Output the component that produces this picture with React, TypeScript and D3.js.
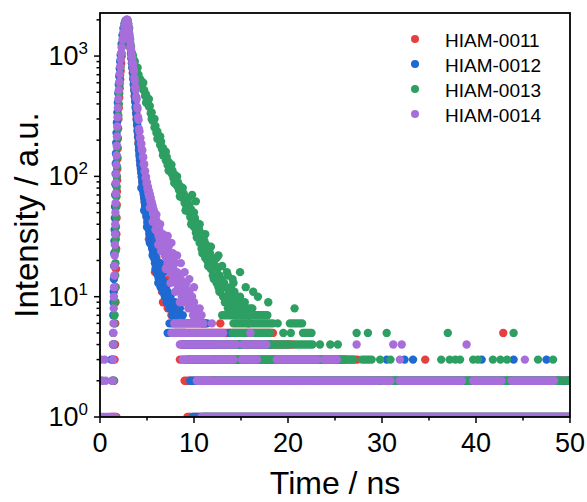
import React from 'react';
import * as d3 from 'd3';

const W = 587;
const H = 502;
const PLOT = { left: 100, right: 570, top: 13, bottom: 417 };
const X_DOMAIN = [0, 50];
const Y_DOMAIN = [1, 2280];
const R = 4.2;
const FONT = '"Liberation Sans", Arial, Helvetica, sans-serif';

const xTicks = [0, 10, 20, 30, 40, 50];
const xMinorTicks = [5, 15, 25, 35, 45];
const yTickExps = [0, 1, 2, 3];

const seriesNames = ['HIAM-0011', 'HIAM-0012', 'HIAM-0013', 'HIAM-0014'];
const seriesColors = ['#E5403F', '#1E69D2', '#2E9F62', '#A76EDB'];

// ---------- HIAM-0011 (red) ----------
const rise0011: number[][] = [
  [1.5, 2], [1.55, 3], [1.6, 4], [1.62, 6], [1.65, 9], [1.67, 12], [1.7, 17], [1.72, 25], [1.74, 33],
  [1.76, 45], [1.78, 58], [1.8, 75], [1.82, 93], [1.84, 115], [1.86, 140], [1.88, 170], [1.9, 205],
  [1.93, 250], [1.96, 300], [2.0, 370], [2.05, 450], [2.1, 540], [2.15, 640], [2.2, 750], [2.25, 870],
  [2.3, 990], [2.4, 1220], [2.5, 1450], [2.6, 1680], [2.7, 1860], [2.8, 1970],
];
const decayStart0011 = 2.85;
const decayStep0011 = 0.05;
const decay0011 = [
  1990, 1960, 1880, 1760, 1640, 1500, 1390, 1260, 1150, 1040, 950, 880, 800, 730, 660, 590, 530, 470,
  425, 380, 340, 305, 272, 243, 216, 192, 172, 155, 140, 128, 118, 109, 100, 92, 85, 79, 73, 68, 63, 59,
  55, 52, 47, 49, 42, 45, 38, 41, 35, 37, 31, 34, 28, 31, 26, 29, 24, 26, 22, 24, 20, 22, 19, 21, 17, 19,
  16, 18, 15, 17, 14, 16, 13, 14,
];
const extra0011: number[][] = [
  [6.55, 14], [6.6, 11], [6.7, 9], [6.8, 12], [6.9, 9], [7.0, 10], [7.2, 8], [7.4, 9], [7.6, 7],
  [7.8, 20], [8.1, 7], [8.4, 8], [5.85, 16], [10.9, 6], [11.2, 6], [12.8, 6], [14.9, 4], [34.6, 3],
  [42.9, 5], [49.3, 2], [5.2, 30], [6.3, 19], [7.3, 14],
];
const runs0011: number[][] = [
  [1, 1.2, 1.75], [1, 9.3, 50], [2, 9.0, 50], [3, 8.5, 27.4], [4, 8.7, 20.5], [5, 8.0, 18.4],
];

// ---------- HIAM-0012 (blue) ----------
const rise0012: number[][] = [
  [1.3, 2], [1.35, 3], [1.38, 4], [1.4, 5], [1.42, 7], [1.44, 9], [1.46, 11], [1.48, 14], [1.5, 18],
  [1.52, 23], [1.54, 29], [1.56, 36], [1.58, 45], [1.6, 56], [1.62, 70], [1.64, 86], [1.66, 105],
  [1.68, 128], [1.7, 155], [1.73, 190], [1.76, 230], [1.8, 280], [1.85, 340], [1.9, 410], [1.95, 490],
  [2.0, 580], [2.05, 680], [2.1, 790], [2.15, 900], [2.2, 1020], [2.3, 1260], [2.4, 1490], [2.5, 1700],
  [2.6, 1860], [2.7, 1960], [2.8, 2000],
];
const decayStart0012 = 2.85;
const decayStep0012 = 0.05;
const decay0012 = [
  2000, 1980, 1900, 1780, 1650, 1520, 1410, 1280, 1170, 1050, 960, 870, 795, 720, 640, 575, 515, 460,
  415, 370, 330, 295, 265, 235, 210, 185, 165, 148, 136, 124, 115, 106, 98, 89, 82, 76, 71, 66, 61, 57,
  53, 50, 46, 47, 41, 43, 37, 39, 33, 36, 30, 32, 27, 30, 25, 27, 23, 25, 21, 23, 19, 21, 18, 20, 16, 18,
  15, 17, 14, 16, 13, 15, 12, 14,
];
const extra0012: number[][] = [
  [6.55, 12], [6.6, 14], [6.7, 11], [6.8, 13], [6.9, 10], [7.0, 12], [7.1, 9], [7.2, 11], [7.3, 10],
  [7.4, 8], [7.5, 10], [7.6, 9], [7.7, 7], [7.8, 8], [8.0, 9], [8.2, 7], [8.5, 8], [8.8, 7],
  [1.2, 3], [13.8, 5], [30.5, 3], [32.4, 3], [33.3, 3], [40.6, 3], [44.0, 3], [47.5, 3],
  [4.4, 80], [4.7, 52], [5.0, 38], [5.3, 28], [5.4, 40], [5.6, 22], [5.8, 30], [5.9, 17], [6.1, 24],
  [6.2, 13], [6.4, 19], [6.8, 16], [7.2, 13],
];
const runs0012: number[][] = [
  [1, 9.9, 50], [2, 9.6, 49.1], [2, 49.5, 50], [3, 9.3, 26.0], [4, 8.8, 18.0], [5, 7.2, 9.0], [6, 7.4, 11.4],
];

// ---------- HIAM-0013 (green) ----------
const rise0013: number[][] = [
  [0.2, 2], [1.45, 2], [1.5, 4], [1.52, 6], [1.55, 7], [1.57, 9], [1.6, 12], [1.62, 15], [1.64, 19],
  [1.66, 24], [1.68, 30], [1.7, 38], [1.72, 46], [1.74, 56], [1.76, 68], [1.78, 82], [1.8, 100],
  [1.82, 120], [1.84, 145], [1.86, 175], [1.88, 210], [1.9, 250], [1.95, 320], [2.0, 400], [2.05, 490],
  [2.1, 590], [2.15, 700], [2.2, 810], [2.3, 1050], [2.4, 1300], [2.5, 1540], [2.6, 1750], [2.7, 1900],
  [2.8, 1990],
];
const decayStart0013 = 2.9;
const decayStep0013 = 0.1;
const decay0013 = [
  2000, 1870, 1700, 1380, 1200, 1060, 1010, 930, 900, 800, 790, 710, 700, 640, 640, 580, 585, 525, 520,
  465, 480, 425, 420, 380, 385, 335, 340, 290, 298, 255, 262, 230, 236, 205, 214, 182, 194, 168, 172, 150,
  157, 136, 145, 124, 132, 114, 121, 106, 112, 97, 104, 90, 96, 83, 89, 77, 83, 71, 78, 66, 72, 60, 67, 56,
  62, 51, 58, 46, 53, 43, 49, 38, 45, 34, 41, 31, 37, 28, 34, 25, 31, 24, 29, 21, 27, 20, 25, 18, 23, 17,
  21, 15, 20, 14, 18, 13, 17, 12, 15, 11, 14, 12, 10, 13, 9, 12, 10, 8, 11, 9, 12, 8, 10, 9, 11, 8, 10, 7,
  9, 8, 10, 7, 9, 8, 7, 9, 8, 7, 8, 6, 7, 8,
];
const extra0013: number[][] = [
  [9.8, 70], [10.2, 62], [11.2, 33], [12.6, 22], [13.5, 16], [14.1, 14], [14.9, 16], [15.5, 12],
  [16.3, 11], [16.8, 10], [17.9, 9], [14.5, 8], [15.5, 8], [16.2, 8], [20.7, 8], [18.9, 6], [19.5, 5],
  [20.3, 5], [23.4, 4], [24.5, 4], [25.3, 4], [27.3, 5], [28.5, 5], [30.5, 5], [37.0, 5], [44.0, 5],
  [29.8, 3], [30.9, 3], [36.3, 3], [37.2, 3], [37.8, 3], [38.3, 3], [39.7, 3], [40.2, 3], [41.8, 3],
  [42.6, 3], [43.3, 3], [46.6, 3], [48.2, 3],
  [4.0, 800], [4.6, 600], [5.2, 440], [5.8, 300], [6.4, 215], [7.0, 160], [7.6, 125], [8.2, 100],
  [8.8, 80], [9.4, 66], [10.0, 50], [10.6, 40], [11.8, 26], [12.4, 21], [13.0, 18], [13.6, 15], [14.2, 13],
  [4.3, 560], [4.9, 410], [5.5, 300], [6.1, 205], [6.7, 150], [7.3, 112], [7.9, 88], [8.5, 68], [9.1, 52],
  [9.7, 40], [10.3, 31], [10.9, 23], [11.5, 18], [12.1, 14], [12.7, 11], [13.3, 9],
];
const runs0013: number[][] = [
  [1, 11.0, 50], [2, 12.0, 29.6], [2, 30.0, 38.6], [2, 39.0, 49.1], [2, 49.6, 50], [3, 12.0, 26.9],
  [3, 27.9, 28.9], [4, 12.5, 20.2], [4, 20.7, 22.6], [5, 14.1, 18.1], [5, 21.6, 22.5], [6, 14.2, 18.4],
  [6, 20.2, 21.5], [7, 13.0, 17.8],
];

// ---------- HIAM-0014 (purple) ----------
const rise0014: number[][] = [
  [0.15, 3], [0.2, 2], [0.6, 2], [0.5, 3], [1.35, 2], [1.38, 3], [1.4, 4], [1.42, 5], [1.44, 6], [1.46, 8],
  [1.48, 10], [1.5, 12], [1.52, 15], [1.54, 18], [1.56, 22], [1.58, 27], [1.6, 33], [1.62, 40], [1.64, 50],
  [1.66, 60], [1.68, 72], [1.7, 88], [1.72, 105], [1.74, 125], [1.76, 150], [1.78, 180], [1.8, 215],
  [1.83, 260], [1.86, 310], [1.9, 370], [1.95, 440], [2.0, 520], [2.05, 610], [2.1, 710], [2.15, 820],
  [2.2, 940], [2.25, 1060], [2.3, 1180], [2.4, 1380], [2.5, 1580], [2.6, 1760], [2.7, 1900], [2.8, 1980],
];
const decayStart0014 = 2.85;
const decayStep0014 = 0.05;
const decay0014 = [
  2000, 2010, 1950, 1840, 1700, 1560, 1430, 1330, 1200, 1130, 1030, 970, 890, 860, 790, 750, 660, 620,
  550, 520, 460, 440, 380, 365, 310, 295, 248, 236, 208, 208, 186, 187, 167, 164, 145, 144, 126, 126, 110,
  111, 97, 99, 87, 89, 79, 82, 72, 76, 67, 71, 62, 66, 58, 61, 53, 57, 49, 53, 46, 50, 43, 47, 40, 43, 37,
  40, 34, 38, 32, 36, 30, 34, 28, 32,
];
const extra0014: number[][] = [
  [6.6, 27], [6.7, 33], [6.75, 24], [6.8, 28], [6.9, 22], [7.0, 30], [7.05, 21], [7.1, 25], [7.2, 19],
  [7.3, 26], [7.35, 18], [7.4, 22], [7.5, 16], [7.6, 20], [7.7, 15], [7.75, 23], [7.8, 17], [7.9, 14],
  [8.0, 19], [8.1, 13], [8.2, 16], [8.3, 12], [8.4, 15], [8.5, 11], [8.6, 14], [8.7, 10], [8.8, 13],
  [8.9, 11], [9.0, 9], [9.1, 12], [9.2, 13], [9.3, 10], [9.4, 8], [9.5, 11], [9.6, 9], [9.7, 8], [9.8, 10],
  [9.9, 7], [10.0, 9], [10.2, 8], [10.4, 7], [10.6, 8], [10.8, 7], [11.0, 6], [11.9, 6], [16.0, 5],
  [27.3, 4], [31.2, 4], [32.1, 4], [39.0, 4], [31.9, 3], [45.2, 3],
  [5.3, 55], [5.6, 42], [5.9, 36], [6.0, 48], [6.2, 27], [6.4, 40], [6.5, 24], [7.0, 17], [7.2, 32],
  [7.5, 13], [7.6, 28], [8.0, 11], [8.2, 22], [8.5, 9], [8.6, 19], [9.0, 16], [9.5, 14], [10.0, 12],
];
const runs0014: number[][] = [
  [1, 0, 1.6], [1, 10.8, 50], [2, 10.3, 19.9], [2, 20.3, 22.7], [2, 23.1, 29.6], [2, 30.1, 30.9],
  [2, 31.9, 38.5], [2, 39.7, 42.7], [2, 43.8, 48.3], [3, 8.8, 14.2], [3, 15.1, 16.7], [3, 18.8, 23.1],
  [3, 23.8, 25.2], [4, 8.5, 14.5], [4, 15.2, 17.7], [5, 7.6, 13.1], [6, 7.9, 10.7],
];

function channels(start: number, step: number, counts: number[]) {
  return counts.map((c, i) => [start + i * step, c]);
}

export default function App() {
  const x = d3.scaleLinear().domain(X_DOMAIN).range([PLOT.left, PLOT.right]);
  const y = d3.scaleLog().domain(Y_DOMAIN).range([PLOT.bottom, PLOT.top]);

  const series = [
    { runs: runs0011, points: [...rise0011, ...channels(decayStart0011, decayStep0011, decay0011), ...extra0011] },
    { runs: runs0012, points: [...rise0012, ...channels(decayStart0012, decayStep0012, decay0012), ...extra0012] },
    { runs: runs0013, points: [...rise0013, ...channels(decayStart0013, decayStep0013, decay0013), ...extra0013] },
    { runs: runs0014, points: [...rise0014, ...channels(decayStart0014, decayStep0014, decay0014), ...extra0014] },
  ];

  const yMinor: number[] = [];
  yTickExps.forEach((e) => {
    for (let m = 2; m <= 9; m++) {
      const v = m * Math.pow(10, e);
      if (v <= Y_DOMAIN[1]) yMinor.push(v);
    }
  });

  const legendX = 415;
  const legendY0 = 39;
  const legendDy = 25;

  return (
    <svg
      width={W}
      height={H}
      style={{ position: 'absolute', left: 0, top: 0, background: '#fff' }}
      fontFamily={FONT}
    >
      <defs>
        <clipPath id="plotClip">
          <rect x={PLOT.left} y={PLOT.top} width={PLOT.right - PLOT.left} height={PLOT.bottom - PLOT.top} />
        </clipPath>
      </defs>
      <g clipPath="url(#plotClip)">
        {series.map((s, si) => (
          <g key={si} fill={seriesColors[si]}>
            {s.runs.map(([c, t0, t1], i) => (
              <line
                key={'r' + i}
                x1={x(t0)}
                x2={x(t1)}
                y1={y(c)}
                y2={y(c)}
                stroke={seriesColors[si]}
                strokeWidth={2 * R}
                strokeLinecap="round"
              />
            ))}
            {s.points.map(([t, c], i) => (
              <circle key={'p' + i} cx={x(t)} cy={y(c)} r={R} />
            ))}
          </g>
        ))}
      </g>

      {/* frame */}
      <rect
        x={PLOT.left}
        y={PLOT.top}
        width={PLOT.right - PLOT.left}
        height={PLOT.bottom - PLOT.top}
        fill="none"
        stroke="#000"
        strokeWidth={1.8}
      />

      {/* x ticks */}
      {xTicks.map((t) => (
        <g key={'xt' + t}>
          <line x1={x(t)} x2={x(t)} y1={PLOT.bottom} y2={PLOT.bottom + 6} stroke="#000" strokeWidth={1.5} />
          <text x={x(t)} y={452} textAnchor="middle" fontSize={27} fill="#000">
            {t}
          </text>
        </g>
      ))}
      {xMinorTicks.map((t) => (
        <line key={'xm' + t} x1={x(t)} x2={x(t)} y1={PLOT.bottom} y2={PLOT.bottom + 3.5} stroke="#000" strokeWidth={1.5} />
      ))}

      {/* y ticks */}
      {yTickExps.map((e) => {
        const v = Math.pow(10, e);
        return (
          <g key={'yt' + e}>
            <line x1={PLOT.left - 6} x2={PLOT.left} y1={y(v)} y2={y(v)} stroke="#000" strokeWidth={1.5} />
            <text x={88} y={y(v) + 9} textAnchor="end" fontSize={27} fill="#000">
              10
              <tspan dy={-11} fontSize={17}>
                {e}
              </tspan>
            </text>
          </g>
        );
      })}
      {yMinor.map((v) => (
        <line key={'ym' + v} x1={PLOT.left - 3.5} x2={PLOT.left} y1={y(v)} y2={y(v)} stroke="#000" strokeWidth={1.5} />
      ))}

      {/* axis titles */}
      <text x={(PLOT.left + PLOT.right) / 2} y={494} textAnchor="middle" fontSize={32} fill="#000">
        Time / ns
      </text>
      <text
        transform={`translate(38, ${(PLOT.top + PLOT.bottom) / 2}) rotate(-90)`}
        textAnchor="middle"
        fontSize={33}
        fill="#000"
      >
        Intensity / a.u.
      </text>

      {/* legend */}
      {seriesNames.map((name, i) => (
        <g key={name}>
          <circle cx={legendX} cy={legendY0 + i * legendDy} r={4} fill={seriesColors[i]} />
          <text x={445} y={legendY0 + i * legendDy + 7.5} fontSize={19} fill="#000">
            {name}
          </text>
        </g>
      ))}
    </svg>
  );
}
